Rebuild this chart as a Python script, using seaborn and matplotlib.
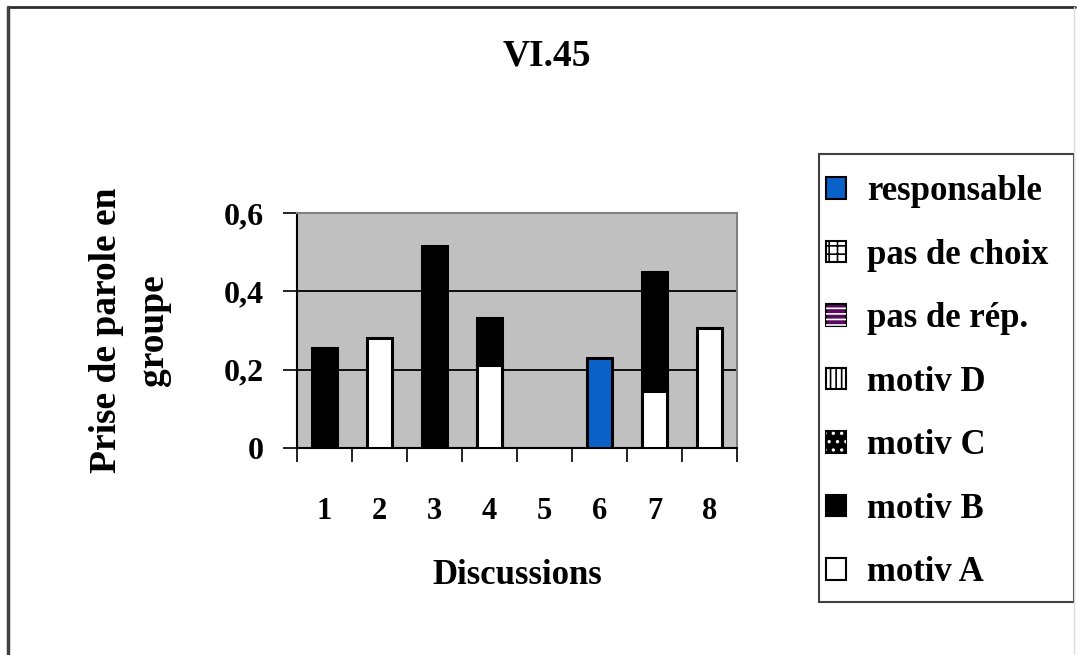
import numpy as np
import pandas as pd
import matplotlib
matplotlib.use("Agg")
import matplotlib.pyplot as plt
import seaborn as sns
from matplotlib.patches import Rectangle
from matplotlib.legend_handler import HandlerTuple
from matplotlib.lines import Line2D

# ---- data ----
discussions = ["1", "2", "3", "4", "5", "6", "7", "8"]
motiv_A = [0.0, 0.28, 0.0, 0.212, 0.0, 0.0, 0.146, 0.306]
motiv_B = [0.255, 0.0, 0.516, 0.12, 0.0, 0.0, 0.304, 0.0]
motiv_C = [0.0, 0.0, 0.0, 0.0, 0.0, 0.0, 0.0, 0.0]
motiv_D = [0.0, 0.0, 0.0, 0.0, 0.0, 0.0, 0.0, 0.0]
pas_de_rep = [0.0, 0.0, 0.0, 0.0, 0.0, 0.0, 0.0, 0.0]
pas_de_choix = [0.0, 0.0, 0.0, 0.0, 0.0, 0.0, 0.0, 0.0]
responsable = [0.0, 0.0, 0.0, 0.0, 0.0, 0.23, 0.0, 0.0]
series_names = ["motiv A", "motiv B", "motiv C", "motiv D", "pas de rép.", "pas de choix", "responsable"]
y_ticks = [0, 0.2, 0.4, 0.6]
y_tick_labels = ["0", "0,2", "0,4", "0,6"]

series_values = [motiv_A, motiv_B, motiv_C, motiv_D, pas_de_rep, pas_de_choix, responsable]
styles = {
    "motiv A": dict(fc="white", hatch=None, hc=None),
    "motiv B": dict(fc="black", hatch=None, hc=None),
    "motiv C": dict(fc="black", hatch="..", hc="white"),
    "motiv D": dict(fc="white", hatch="|||", hc="black"),
    "pas de rép.": dict(fc="#5a0a5e", hatch="---", hc="white"),
    "pas de choix": dict(fc="white", hatch="++", hc="black"),
    "responsable": dict(fc="#0a62c8", hatch=None, hc=None),
}

sns.set_theme(style="white")
plt.rcParams["font.family"] = ["Liberation Serif", "DejaVu Serif"]
plt.rcParams["font.weight"] = "bold"
plt.rcParams["hatch.linewidth"] = 1.2
for key in ["text.color", "axes.labelcolor", "xtick.color", "ytick.color"]:
    plt.rcParams[key] = "black"

fig = plt.figure(figsize=(10.77, 6.55), dpi=100)
ax = fig.add_axes([297 / 1077, 1 - 448 / 655, 440 / 1077, 235 / 655])
ax.set_facecolor("#c0c0c0")

# cumulative heights
df = pd.DataFrame(dict(zip(series_names, series_values)), index=discussions)
cum = df.cumsum(axis=1)

# draw from top layer down so lower layers overdraw
for name in reversed(series_names):
    mask = df[name] > 0
    if not mask.any():
        continue
    sub = pd.DataFrame({"disc": df.index[mask], "h": cum[name][mask].values})
    st = styles[name]
    sns.barplot(data=sub, x="disc", y="h", order=discussions, color=st["fc"],
                saturation=1, width=0.44, edgecolor="black", linewidth=2.2,
                ax=ax, zorder=3)

ax.set_xlim(-0.5, 7.5)
ax.set_ylim(0, 0.6)
ax.set_yticks(y_ticks)
ax.set_yticklabels(y_tick_labels)
for yv in [0.2, 0.4]:
    ax.axhline(yv, color="black", lw=1.3, zorder=1)

# x ticks at category boundaries
ax.set_xticks(range(8))
ax.set_xticklabels(discussions)
ax.tick_params(axis="x", which="major", bottom=True, length=0, pad=35, labelsize=22)
ax.set_xticks(np.arange(-0.5, 8.0, 1.0), minor=True)
ax.tick_params(axis="x", which="minor", bottom=True, length=10, width=1.2,
               color="black", direction="out")
ax.tick_params(axis="y", which="major", left=True, length=10, width=1.2,
               color="black", direction="out", pad=14, labelsize=23)
for lbl in ax.get_xticklabels() + ax.get_yticklabels():
    lbl.set_fontweight("bold")

for side in ["top", "right"]:
    ax.spines[side].set_color("#808080")
    ax.spines[side].set_linewidth(1.5)
for side in ["left", "bottom"]:
    ax.spines[side].set_color("black")
    ax.spines[side].set_linewidth(1.5)

ax.set_xlabel("Discussions", fontsize=25, fontweight="bold", labelpad=24)
ax.set_ylabel("Prise de parole en\ngroupe", fontsize=27, fontweight="bold", labelpad=38,
              linespacing=1.45)

fig.text(547 / 1077, 1 - 56 / 655, "VI.45", ha="center", va="center",
         fontsize=27, fontweight="bold")

# legend
handles = []
for name in reversed(series_names):
    st = styles[name]
    base = Rectangle((0, 0), 1, 1, facecolor=st["fc"], edgecolor="black", linewidth=1.5)
    if st["hatch"]:
        over = Rectangle((0, 0), 1, 1, facecolor="none", edgecolor=st["hc"],
                         hatch=st["hatch"], linewidth=0)
        handles.append((base, over))
    else:
        handles.append(base)
leg = fig.legend(handles, list(reversed(series_names)), loc="upper left",
                 bbox_to_anchor=(826 / 1077, 1 - 175 / 655),
                 handler_map={tuple: HandlerTuple(ndivide=1, pad=0)},
                 prop=dict(family="Liberation Serif", weight="bold", size=25),
                 frameon=False,
                 handlelength=0.58, handleheight=0.58, handletextpad=0.6,
                 labelspacing=0.88, borderpad=0, borderaxespad=0)

# legend frame
fig.add_artist(Rectangle((819 / 1077, 1 - 602 / 655), 255 / 1077, 448 / 655,
                         transform=fig.transFigure, facecolor="none",
                         edgecolor="#404040", linewidth=1.5))

# figure border
fig.add_artist(Line2D([8 / 1077, 1075 / 1077], [1 - 7 / 655] * 2, color="#303030", lw=2,
                      transform=fig.transFigure))
fig.add_artist(Line2D([8 / 1077] * 2, [0, 1 - 7 / 655], color="#404040", lw=2.5,
                      transform=fig.transFigure))
fig.add_artist(Line2D([1074 / 1077] * 2, [0, 1 - 7 / 655], color="#dddddd", lw=1,
                      transform=fig.transFigure))

fig.savefig("out.png", dpi=100, facecolor="white")
